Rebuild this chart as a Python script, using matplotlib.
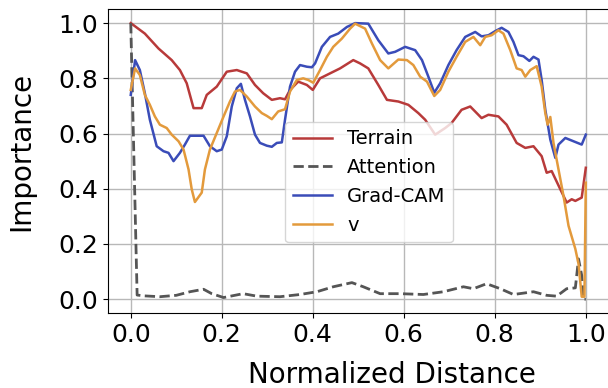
import matplotlib
matplotlib.use("Agg")
import matplotlib.pyplot as plt

# ---- data ----
terrain_x = [0.0, 0.031, 0.061, 0.09, 0.108, 0.123, 0.138, 0.156, 0.167, 0.189, 0.211, 0.233,
             0.255, 0.273, 0.291, 0.31, 0.328, 0.339, 0.35, 0.368, 0.387, 0.4, 0.416, 0.438,
             0.46, 0.489, 0.504, 0.522, 0.544, 0.563, 0.588, 0.61, 0.632, 0.647, 0.669, 0.691,
             0.705, 0.727, 0.746, 0.771, 0.786, 0.808, 0.826, 0.848, 0.867, 0.885, 0.903, 0.914,
             0.925, 0.944, 0.958, 0.969, 0.977, 0.991, 1.0]
terrain_y = [1.0, 0.962, 0.908, 0.866, 0.83, 0.782, 0.692, 0.692, 0.74, 0.77, 0.824, 0.83,
             0.818, 0.776, 0.746, 0.722, 0.728, 0.724, 0.758, 0.788, 0.776, 0.758, 0.8, 0.818,
             0.836, 0.866, 0.854, 0.836, 0.776, 0.722, 0.716, 0.704, 0.674, 0.65, 0.596, 0.62,
             0.638, 0.686, 0.698, 0.656, 0.668, 0.662, 0.632, 0.566, 0.548, 0.554, 0.518, 0.458,
             0.464, 0.398, 0.35, 0.362, 0.356, 0.368, 0.476]

attention_x = [0.0, 0.014, 0.03, 0.064, 0.1, 0.13, 0.16, 0.178, 0.204, 0.247, 0.277, 0.328,
               0.372, 0.409, 0.445, 0.486, 0.511, 0.548, 0.592, 0.643, 0.687, 0.731, 0.753,
               0.782, 0.812, 0.841, 0.885, 0.914, 0.936, 0.958, 0.977, 0.984, 0.991, 0.995, 1.0]
attention_y = [1.0, 0.015, 0.012, 0.009, 0.014, 0.027, 0.036, 0.02, 0.006, 0.02, 0.011, 0.009,
               0.017, 0.027, 0.045, 0.06, 0.045, 0.02, 0.02, 0.017, 0.027, 0.045, 0.038,
               0.056, 0.038, 0.017, 0.027, 0.014, 0.011, 0.038, 0.041, 0.146, 0.086, 0.0, 0.0]

gradcam_x = [0.0, 0.0095, 0.02, 0.031, 0.042, 0.057, 0.072, 0.083, 0.094, 0.108, 0.119, 0.13,
             0.16, 0.174, 0.189, 0.2, 0.211, 0.222, 0.233, 0.242, 0.251, 0.262, 0.273, 0.284,
             0.299, 0.31, 0.321, 0.332, 0.339, 0.35, 0.361, 0.372, 0.387, 0.398, 0.405, 0.42,
             0.438, 0.456, 0.475, 0.493, 0.522, 0.544, 0.566, 0.581, 0.603, 0.625, 0.64, 0.654,
             0.667, 0.68, 0.698, 0.716, 0.735, 0.757, 0.771, 0.786, 0.801, 0.815, 0.83, 0.841,
             0.852, 0.863, 0.876, 0.885, 0.896, 0.903, 0.911, 0.922, 0.933, 0.94, 0.955, 0.973,
             0.991, 1.0]
gradcam_y = [0.74, 0.866, 0.83, 0.746, 0.65, 0.554, 0.536, 0.53, 0.5, 0.53, 0.56, 0.592,
             0.592, 0.554, 0.536, 0.542, 0.59, 0.698, 0.764, 0.78, 0.722, 0.662, 0.596, 0.566,
             0.556, 0.552, 0.566, 0.568, 0.65, 0.77, 0.824, 0.848, 0.842, 0.84, 0.854, 0.914,
             0.95, 0.962, 0.986, 1.0, 0.998, 0.938, 0.89, 0.896, 0.914, 0.902, 0.866, 0.806,
             0.748, 0.782, 0.848, 0.902, 0.95, 0.968, 0.952, 0.956, 0.971, 0.983, 0.968, 0.932,
             0.884, 0.88, 0.863, 0.878, 0.868, 0.794, 0.686, 0.578, 0.512, 0.56, 0.584, 0.572,
             0.56, 0.596]

v_x = [0.0, 0.0095, 0.02, 0.031, 0.042, 0.053, 0.064, 0.079, 0.09, 0.105, 0.116, 0.127,
       0.134, 0.141, 0.156, 0.163, 0.174, 0.189, 0.204, 0.218, 0.229, 0.24, 0.255, 0.273,
       0.288, 0.299, 0.31, 0.324, 0.339, 0.35, 0.365, 0.379, 0.39, 0.401, 0.416, 0.431,
       0.445, 0.464, 0.482, 0.493, 0.515, 0.53, 0.548, 0.566, 0.588, 0.607, 0.621, 0.636,
       0.651, 0.667, 0.68, 0.698, 0.716, 0.735, 0.753, 0.768, 0.779, 0.793, 0.808, 0.819,
       0.834, 0.848, 0.859, 0.867, 0.878, 0.892, 0.903, 0.911, 0.916, 0.922, 0.929, 0.94,
       0.951, 0.962, 0.977, 0.984, 0.991, 0.997, 1.0]
v_y = [0.758, 0.836, 0.812, 0.74, 0.704, 0.662, 0.632, 0.62, 0.596, 0.572, 0.542, 0.47,
       0.398, 0.352, 0.386, 0.47, 0.542, 0.602, 0.662, 0.716, 0.752, 0.758, 0.734, 0.698,
       0.674, 0.664, 0.652, 0.68, 0.688, 0.752, 0.794, 0.8, 0.794, 0.784, 0.83, 0.878,
       0.914, 0.944, 0.98, 0.998, 0.98, 0.926, 0.866, 0.836, 0.868, 0.866, 0.848, 0.806,
       0.788, 0.736, 0.758, 0.824, 0.878, 0.932, 0.95, 0.92, 0.95, 0.956, 0.974, 0.962,
       0.902, 0.836, 0.83, 0.806, 0.83, 0.844, 0.77, 0.674, 0.632, 0.66, 0.566, 0.47,
       0.374, 0.266, 0.182, 0.128, 0.009, 0.009, 0.422]

x_ticks = [0.0, 0.2, 0.4, 0.6, 0.8, 1.0]
y_ticks = [0.0, 0.2, 0.4, 0.6, 0.8, 1.0]

# ---- figure ----
fig = plt.figure(figsize=(6.08, 3.88), dpi=100)
ax = fig.add_axes([108 / 608, 75 / 388, 567 / 608, 303.7 / 388])

ax.plot(terrain_x, terrain_y, color="#b83a3a", lw=1.8, label="Terrain")
ax.plot(attention_x, attention_y, color="#555555", lw=2, ls="--", label="Attention")
ax.plot(gradcam_x, gradcam_y, color="#3a4cb8", lw=1.8, label="Grad-CAM")
ax.plot(v_x, v_y, color="#e39a3c", lw=1.8, label="v")

ax.set_xlim(-0.05, 1.196)
ax.set_ylim(-0.05, 1.05)
ax.set_xticks(x_ticks)
ax.set_yticks(y_ticks)
ax.tick_params(labelsize=18)
ax.grid(True, color="#b8b8b8", lw=1)
ax.set_axisbelow(True)
ax.set_xlabel("Normalized Distance", fontsize=20)
ax.set_ylabel("Importance", fontsize=20)
ax.xaxis.set_label_coords(0.5, -0.158)
ax.yaxis.set_label_coords(-0.129, 0.533)

ax.legend(loc="upper left", bbox_to_anchor=(0.312, 0.63), borderaxespad=0,
          fontsize=14, framealpha=0.8)

fig.savefig("out.png", dpi=100)
